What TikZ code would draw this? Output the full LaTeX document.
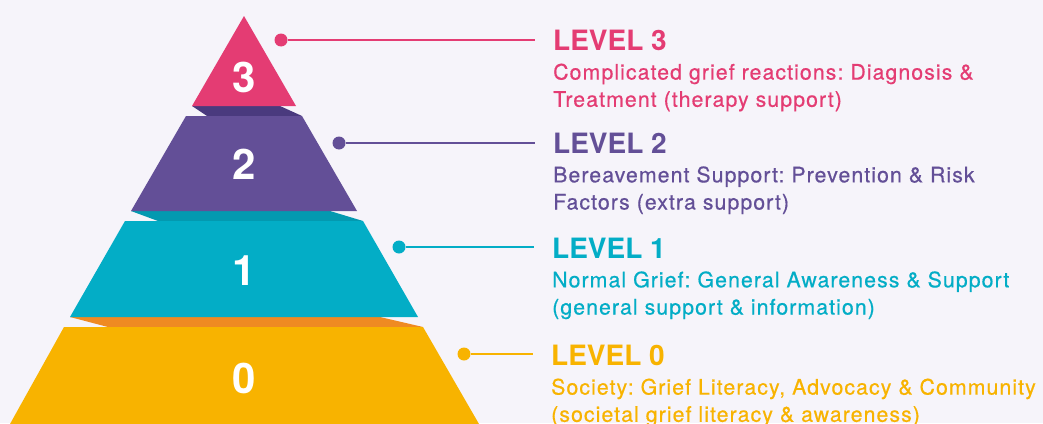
\documentclass[tikz,border=0pt]{standalone}
\usepackage{fontspec}
\setmainfont{TeX Gyre Heros}
\newfontfamily\descfont[LetterSpace=5,FakeBold=0.5]{TeX Gyre Heros}
\usetikzlibrary{positioning}
\definecolor{bgcol}{HTML}{F6F4FA}
\definecolor{lvlthree}{HTML}{E43C73}
\definecolor{lvlthreedark}{HTML}{4A3A7E}
\definecolor{lvltwo}{HTML}{634F97}
\definecolor{lvltwodark}{HTML}{0399B0}
\definecolor{lvlone}{HTML}{03ADC6}
\definecolor{lvlonedark}{HTML}{EF8A22}
\definecolor{lvlzero}{HTML}{F8B300}

\begin{document}
\begin{tikzpicture}[x=1pt,y=-1pt,
    num/.style={text=white,font=\fontsize{42}{42}\selectfont\bfseries},
    head/.style={inner sep=0pt,anchor=base west,font=\fontsize{28}{28}\selectfont\bfseries},
    desc/.style={inner sep=0pt,align=left,font=\descfont\fontsize{21.3}{27.2}\selectfont\frenchspacing},
    dot/.style={circle,inner sep=0pt,minimum size=13pt},
    lead/.style={line width=2.7pt,shorten >=18pt}]
                % Background
                \fill[bgcol] (0,0) rectangle (1043,423);
                \useasboundingbox (0,0) rectangle (1043,423);

                % Shadow strips between the levels
                \fill[lvlthreedark] (192,106) -- (280,106) -- (302,116) -- (207,116) -- cycle;
                \fill[lvltwodark] (131,211) -- (330,211) -- (363,221) -- (158,221) -- cycle;
                \fill[lvlonedark] (70,317) -- (380,317) -- (423,327) -- (108,327) -- cycle;

                % Pyramid levels
                \fill[lvlthree] (244,16) -- (296,106) -- (192,106) -- cycle;
                \fill[lvltwo] (186,116) -- (302,116) -- (357,211) -- (131,211) -- cycle;
                \fill[lvlone] (125,221) -- (363,221) -- (418,317) -- (70,317) -- cycle;
                \fill[lvlzero] (64,327) -- (423,327) -- (479,424) -- (10,424) -- cycle;

                % Level numbers
                \node[num] (n3) at (244,77) {3};
                \node[num] (n2) at (244,164) {2};
                \node[num] (n1) at (244,271) {1};
                \node[num] (n0) at (244,378) {0};

                % Headings
                \node[head,text=lvlthree] (h3) at (553,50) {LEVEL 3};
                \node[head,text=lvltwo] (h2) at (553,153) {LEVEL 2};
                \node[head,text=lvlone] (h1) at (552,258) {LEVEL 1};
                \node[head,text=lvlzero] (h0) at (551,365) {LEVEL 0};

                % Descriptions
                \node[desc,text=lvlthree,below right=13pt and 0pt of h3.south west] (t3)
                    {Complicated grief reactions: Diagnosis \&\\Treatment (therapy support)};
                \node[desc,text=lvltwo,below right=13pt and 0pt of h2.south west] (t2)
                    {Bereavement Support: Prevention \& Risk\\Factors (extra support)};
                \node[desc,text=lvlone,below right=13pt and 0pt of h1.south west] (t1)
                    {Normal Grief: General Awareness \& Support\\(general support \& information)};
                \node[desc,text=lvlzero,below right=13pt and 0pt of h0.south west] (t0)
                    {Society: Grief Literacy, Advocacy \& Community\\(societal grief literacy \& awareness)};

                % Pointer dots and lines
                \node[dot,fill=lvlthree] (d3) at (281,40) {};
                \node[dot,fill=lvltwo] (d2) at (339,143) {};
                \node[dot,fill=lvlone] (d1) at (399,247) {};
                \node[dot,fill=lvlzero] (d0) at (464,354) {};
                \draw[lead,lvlthree] (d3) -- (d3 -| h3.west);
                \draw[lead,lvltwo] (d2) -- (d2 -| h2.west);
                \draw[lead,lvlone] (d1) -- (d1 -| h1.west);
                \draw[lead,lvlzero] (d0) -- (d0 -| h0.west);
\end{tikzpicture}
\end{document}
